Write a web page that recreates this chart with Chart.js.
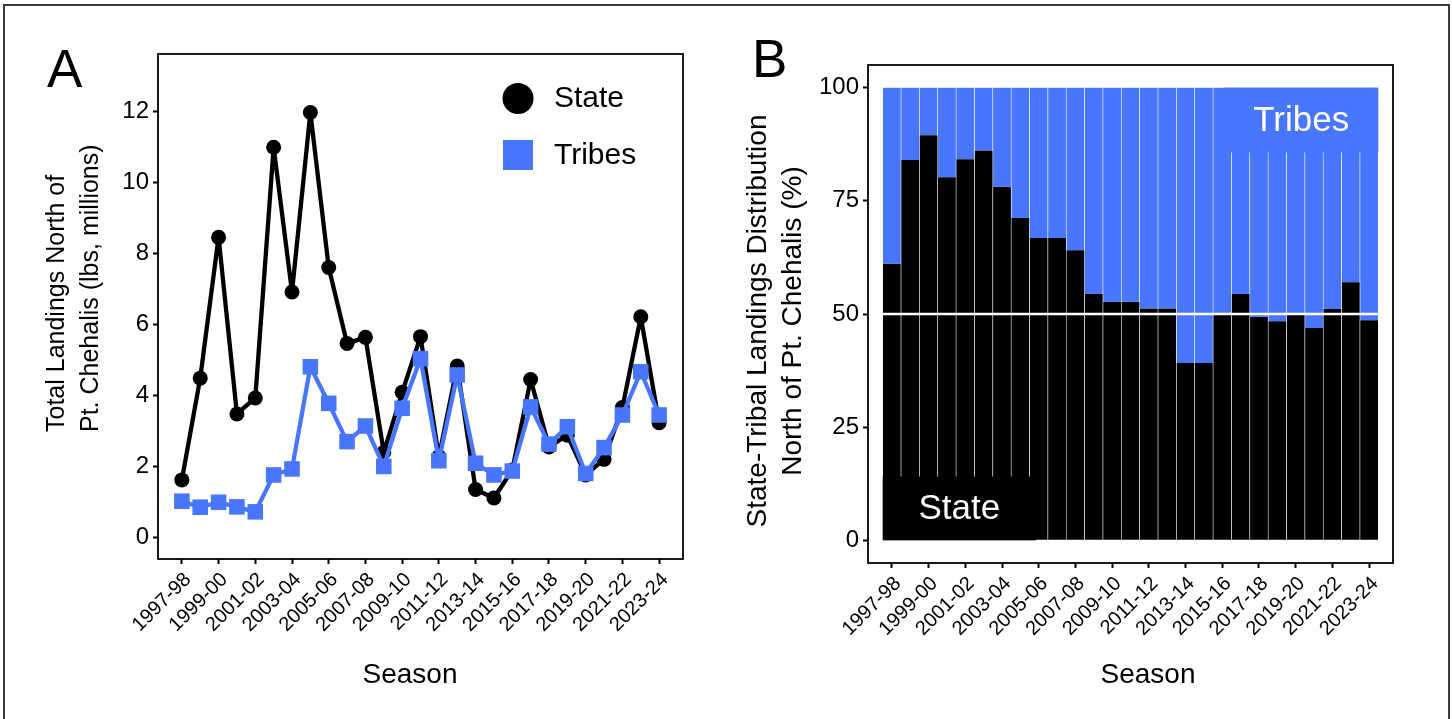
<!DOCTYPE html>
<html><head><meta charset="utf-8">
<script src="https://cdn.jsdelivr.net/npm/chart.js@4.4.1/dist/chart.umd.min.js"></script>
<style>
html,body{margin:0;padding:0;background:#fff;overflow:hidden;width:1452px;height:719px}
#frame{position:absolute;left:3px;top:4px;width:1447px;height:730px;border:2px solid #3a3a3a;box-sizing:border-box;}
canvas{position:absolute;top:0}
#cA{left:0}
#cB{left:720px}
.lett{position:absolute;font-family:'Liberation Sans',Arial,sans-serif;font-size:53px;color:#000;line-height:1}
</style></head><body>
<div id="frame"></div>
<canvas id="cA" width="720" height="719"></canvas>
<canvas id="cB" width="732" height="719"></canvas>
<div class="lett" style="left:47px;top:42px">A</div>
<div class="lett" style="left:752px;top:32px">B</div>
<script>
const seasons = ['1997-98','1998-99','1999-00','2000-01','2001-02','2002-03','2003-04','2004-05','2005-06','2006-07','2007-08','2008-09','2009-10','2010-11','2011-12','2012-13','2013-14','2014-15','2015-16','2016-17','2017-18','2018-19','2019-20','2020-21','2021-22','2022-23','2023-24'];
const stateLbs  = [1.62,4.49,8.46,3.48,3.93,11.00,6.92,11.98,7.61,5.47,5.64,2.40,4.09,5.66,2.27,4.83,1.35,1.11,1.90,4.45,2.55,2.88,1.76,2.20,3.66,6.22,3.23];
const tribesLbs = [1.02,0.85,0.99,0.86,0.72,1.76,1.93,4.81,3.78,2.70,3.14,2.00,3.64,5.04,2.16,4.58,2.09,1.76,1.87,3.68,2.63,3.12,1.80,2.53,3.45,4.67,3.45];
const statePct  = [61.1,84.0,89.5,80.2,84.2,86.1,78.1,71.2,66.8,66.8,64.1,54.5,52.7,52.7,51.2,51.2,39.2,39.2,49.8,54.5,49.4,48.4,49.8,46.9,51.1,57.0,48.6];
const tribesPct = [38.9,16.0,10.5,19.8,15.8,13.9,21.9,28.8,33.2,33.2,35.9,45.5,47.3,47.3,48.8,48.8,60.8,60.8,50.2,45.5,50.6,51.6,50.2,53.1,48.9,43.0,51.4];
const xTickIdx = [0,2,4,6,8,10,12,14,16,18,20,22,24,26];
const yTicksA = [0,2,4,6,8,10,12];
const yTicksB = [0,25,50,75,100];
const seriesNames = ['State','Tribes'];
const xTitle = 'Season';
const yTitleA = ['Total Landings North of','Pt. Chehalis (lbs, millions)'];
const yTitleB = ['State-Tribal Landings Distribution','North of Pt. Chehalis (%)'];
const BLUE = '#4876FF';
const FONT = "'Liberation Sans', Arial, sans-serif";

Chart.defaults.font.family = FONT;
Chart.defaults.color = '#000';

const boxPlugin = {id:'box', afterDraw(chart){
  const {ctx, chartArea:a} = chart;
  ctx.save(); ctx.strokeStyle='#000'; ctx.lineWidth=1.8;
  ctx.strokeRect(a.left, a.top, a.right-a.left, a.bottom-a.top);
  ctx.restore();
}};

function titlePlugin(yLines, ySize, yXs, yPos, yAlign, xSize, xPos){
  return {id:'titles', afterDraw(chart){
    const ctx = chart.ctx;
    ctx.save();
    ctx.fillStyle='#000';
    ctx.font = ySize + 'px ' + FONT;
    ctx.textBaseline='middle';
    yLines.forEach((t,i)=>{
      ctx.save(); ctx.translate(yXs[i], yPos); ctx.rotate(-Math.PI/2);
      ctx.textAlign = yAlign; ctx.fillText(t, 0, 0); ctx.restore();
    });
    ctx.font = xSize + 'px ' + FONT;
    ctx.textAlign='center';
    ctx.fillText(xTitle, xPos[0], xPos[1]);
    ctx.restore();
  }};
}

function xAxis(h){
  return {
    type:'linear', min:-1.3, max:27.3, offset:false,
    afterBuildTicks(s){ s.ticks = xTickIdx.map(v=>({value:v})); },
    afterFit(s){ s.height = h; },
    ticks:{autoSkip:false, maxRotation:45, minRotation:45, padding:4, labelOffset:6, font:{size:20}, color:'#000',
      callback:(v)=>seasons[v]},
    grid:{display:true, offset:false, drawOnChartArea:false, drawTicks:true, tickLength:5, tickColor:'#000', tickWidth:2},
    border:{display:false},
    title:{display:false}
  };
}
function yAxis(min, max, ticks, w){
  return {type:'linear', min, max,
    afterBuildTicks(s){ s.ticks = ticks.map(v=>({value:v})); },
    afterFit(s){ s.width = w; },
    ticks:{font:{size:24}, padding:4, color:'#000'},
    grid:{display:true, drawOnChartArea:false, tickLength:5, tickColor:'#000', tickWidth:2},
    border:{display:false},
    title:{display:false}
  };
}

// Panel A
const legendA = {id:'legendA', afterDraw(chart){
  const ctx = chart.ctx;
  ctx.save();
  ctx.fillStyle='#000';
  ctx.beginPath(); ctx.arc(518, 98.5, 15.5, 0, Math.PI*2); ctx.fill();
  ctx.fillStyle=BLUE;
  ctx.fillRect(503, 140, 30, 30);
  ctx.fillStyle='#000';
  ctx.font = '30px ' + FONT;
  ctx.textBaseline='middle'; ctx.textAlign='left';
  ctx.fillText(seriesNames[0], 554, 99);
  ctx.fillText(seriesNames[1], 554, 156);
  ctx.restore();
}};

new Chart(document.getElementById('cA'), {
  type:'line',
  data:{datasets:[
    {label:seriesNames[0], data:stateLbs.map((y,i)=>({x:i,y})), borderColor:'#000', backgroundColor:'#000',
     borderWidth:4.3, borderJoinStyle:'round', pointRadius:7.5, pointStyle:'circle', pointBorderWidth:0, tension:0, order:1},
    {label:seriesNames[1], data:tribesLbs.map((y,i)=>({x:i,y})), borderColor:BLUE, backgroundColor:BLUE,
     borderWidth:4.3, borderJoinStyle:'round', pointRadius:11, pointStyle:'rect', pointBorderWidth:0, tension:0, order:0}
  ]},
  options:{
    responsive:false, animation:false, events:[], devicePixelRatio:1,
    layout:{padding:{left:0, top:54, right:37, bottom:0}},
    plugins:{legend:{display:false}, tooltip:{enabled:false}},
    scales:{ x: xAxis(160), y: yAxis(-0.61, 13.63, yTicksA, 158) }
  },
  plugins:[boxPlugin, legendA, titlePlugin(yTitleA, 25, [57, 91], 432, 'left', 28, [410, 675])]
});

// Panel B
const labelsB = {id:'labelsB', afterDatasetsDraw(chart){
  const {ctx, scales:{x,y}} = chart;
  ctx.save();
  let l = x.getPixelForValue(-0.5), r = x.getPixelForValue(7.85), t = y.getPixelForValue(14.1), b = y.getPixelForValue(0);
  ctx.fillStyle='#000'; ctx.fillRect(l, t, r-l, b-t);
  ctx.fillStyle='#fff'; ctx.font='35px ' + FONT; ctx.textAlign='center'; ctx.textBaseline='middle';
  ctx.fillText(seriesNames[0], (l+r)/2, (t+b)/2+1);
  l = x.getPixelForValue(18.1); r = x.getPixelForValue(26.5); t = y.getPixelForValue(100); b = y.getPixelForValue(85.7);
  ctx.fillStyle=BLUE; ctx.fillRect(l, t, r-l, b-t);
  ctx.fillStyle='#fff';
  ctx.fillText(seriesNames[1], (l+r)/2, (t+b)/2+1);
  ctx.restore();
}};

const xB = xAxis(156); xB.stacked = true;
const yB = yAxis(-5, 105, yTicksB, 148); yB.stacked = true;
new Chart(document.getElementById('cB'), {
  type:'bar',
  data:{datasets:[
    {label:seriesNames[0], data:statePct.map((y,i)=>({x:i,y})), backgroundColor:'#000', borderColor:'#fff',
     borderWidth:{left:0.6,right:0.6,top:0,bottom:0}, borderSkipped:false, barPercentage:1, categoryPercentage:1, order:0},
    {label:seriesNames[1], data:tribesPct.map((y,i)=>({x:i,y})), backgroundColor:BLUE, borderColor:'#fff',
     borderWidth:{left:0.6,right:0.6,top:0,bottom:0}, borderSkipped:false, barPercentage:1, categoryPercentage:1, order:0},
    {type:'line', label:'50%', stack:'ref', data:[{x:-0.5,y:50},{x:26.5,y:50}], borderColor:'#fff', borderWidth:2.5,
     pointRadius:0, order:-1}
  ]},
  options:{
    responsive:false, animation:false, events:[], devicePixelRatio:1,
    layout:{padding:{left:0, top:65, right:59, bottom:0}},
    plugins:{legend:{display:false}, tooltip:{enabled:false}},
    scales:{ x: xB, y: yB }
  },
  plugins:[boxPlugin, labelsB, titlePlugin(yTitleB, 28, [38, 73], 321, 'center', 28, [428, 675])]
});
</script>
</body></html>
